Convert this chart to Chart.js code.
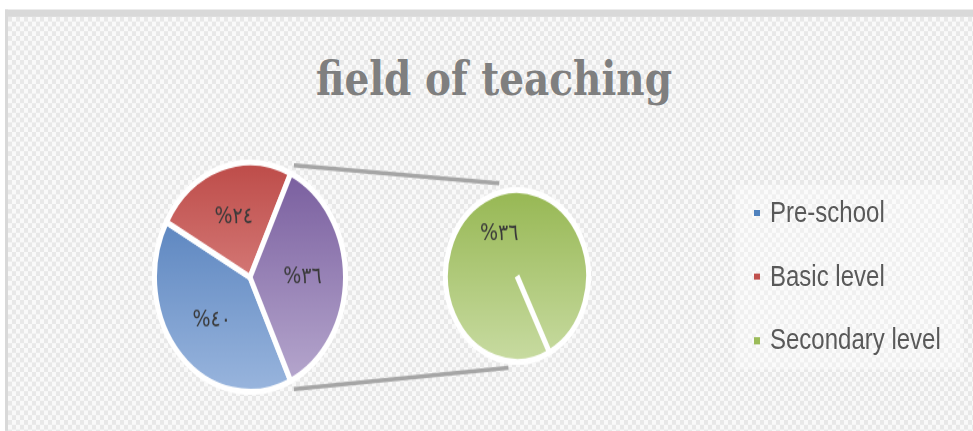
<!DOCTYPE html>
<html>
<head>
<meta charset="utf-8">
<script src="https://cdn.jsdelivr.net/npm/chart.js@4.4.1/dist/chart.umd.min.js"></script>
<style>
  html, body { margin: 0; padding: 0; width: 973px; height: 431px; overflow: hidden; background: #ffffff; }
  #stage { position: absolute; left: 0; top: 0; width: 973px; height: 359px; transform: scaleY(1.2); transform-origin: 0 0; }
  #frame {
    position: absolute; left: 5px; top: 7.5px; right: 0; bottom: 0;
    border-top: 6.5px solid #d9d9d9; border-left: 3px solid #d9d9d9;
    background-color: #f1f1f1;
    background-image: repeating-conic-gradient(#f9f9f9 0 25%, #e8e8e8 0 50%);
    background-size: 8px 8px;
  }
  #title {
    position: absolute; left: 0; width: 988px; top: 46px; text-align: center;
    font: bold 39px "DejaVu Serif", serif; line-height: 1; color: #7f7f7f;
  }
  #links { position: absolute; left: 0; top: 0; width: 973px; height: 359px; }
  .pieBox { position: absolute; }
  .pieBox canvas { display: block; }
  #mainBox { left: 152px; top: 133px; }
  #subBox  { left: 443px; top: 156px; }
  #legendBack { position: absolute; left: 735px; top: 154px; width: 228px; height: 154px; background: rgba(255,255,255,0.35); }
  #legend { position: absolute; left: 754px; top: 164.7px; }
  .row { position: relative; height: 53.2px; font: 24px "Liberation Sans", Arial, sans-serif; line-height: 1; color: #595959; white-space: nowrap; }
  .row i { position: absolute; left: 0; top: 10px; width: 6px; height: 5.5px; }
  .row span { position: absolute; left: 16px; top: 0; }
</style>
</head>
<body>
<div id="stage">
  <div id="frame"></div>
  <div id="title">field of teaching</div>
  <canvas id="links" width="973" height="359"></canvas>
  <div id="legendBack"></div>
  <div class="pieBox" id="mainBox"><canvas id="mainPie" width="196" height="196"></canvas></div>
  <div class="pieBox" id="subBox"><canvas id="subPie" width="148" height="148"></canvas></div>
  <div id="legend"></div>
</div>
<script>
const categories = ['Pre-school', 'Basic level', 'Secondary level'];
const shares     = [40, 24, 36];           // percent
const legendColors = ['#4f81bd', '#c0504d', '#9bbb59'];

// main pie: pre-school, basic, and the split-off slice (= secondary level)
const mainValues = [shares[0], shares[1], shares[2]];
const mainGrad   = [['#4876b6', '#9ab6de'], ['#bd4b48', '#eaa3a1'], ['#765a9c', '#b9abd0']];
// secondary pie: the secondary level alone
const subValues  = [shares[2]];
const subGrad    = [['#96b752', '#c9dca3']];

const arabicDigits = '٠١٢٣٤٥٦٧٨٩';
function toArabic(n) {
    return String(n).replace(/[0-9]/g, d => arabicDigits[d]);
}

function gradientFill(pairs) {
    return function (ctx) {
        const chart = ctx.chart;
        const area = chart.chartArea;
        const pair = pairs[ctx.dataIndex];
        if (!area) return pair[0];
        const g = chart.ctx.createLinearGradient(0, area.top, 0, area.bottom);
        g.addColorStop(0, pair[0]);
        g.addColorStop(1, pair[1]);
        return g;
    };
}

const sliceLabels = {
    id: 'sliceLabels',
    afterDatasetsDraw(chart) {
        const ctx = chart.ctx;
        const meta = chart.getDatasetMeta(0);
        const data = chart.data.datasets[0].data;
        ctx.save();
        ctx.font = '19px "DejaVu Sans", sans-serif';
        ctx.fillStyle = '#3a3a3a';
        ctx.textAlign = 'center';
        ctx.textBaseline = 'middle';
        meta.data.forEach(function (arc, i) {
            const mid = (arc.startAngle + arc.endAngle) / 2;
            const r = arc.outerRadius * 0.55;
            ctx.fillText('%' + toArabic(data[i]), arc.x + Math.cos(mid) * r, arc.y + Math.sin(mid) * r);
        });
        ctx.restore();
    }
};

// fixed canvas size: the page is stretched with a CSS transform, so no resize measuring
function pieOptions(rotation) {
    return {
        rotation: rotation,
        animation: false,
        responsive: false,
        layout: { padding: 0 },
        plugins: { legend: { display: false }, tooltip: { enabled: false } }
    };
}

// turn the main pie so the split-off slice faces the secondary pie
const mainRotation = 90 - (shares[0] + shares[1]) / 100 * 360 - shares[2] / 100 * 180;

const mainChart = new Chart(document.getElementById('mainPie'), {
    type: 'pie',
    data: {
        labels: ['Pre-school', 'Basic level', 'Other'],
        datasets: [{ data: mainValues, backgroundColor: gradientFill(mainGrad), borderColor: '#ffffff', borderWidth: 5 }]
    },
    options: pieOptions(mainRotation),
    plugins: [sliceLabels]
});

const subChart = new Chart(document.getElementById('subPie'), {
    type: 'pie',
    data: {
        labels: ['Secondary level'],
        datasets: [{ data: subValues, backgroundColor: gradientFill(subGrad), borderColor: '#ffffff', borderWidth: 5 }]
    },
    options: pieOptions(153),
    plugins: [sliceLabels]
});

// connector lines from the split-off slice to the secondary pie
function drawLinks() {
    const ctx = document.getElementById('links').getContext('2d');
    const mainBox = document.getElementById('mainBox');
    const subBox = document.getElementById('subBox');
    const arc = mainChart.getDatasetMeta(0).data[2];
    const sub = subChart.getDatasetMeta(0).data[0];
    const mx = mainBox.offsetLeft + arc.x, my = mainBox.offsetTop + arc.y;
    const sx = subBox.offsetLeft + sub.x, sy = subBox.offsetTop + sub.y;
    const r = arc.outerRadius * 1.08, sr = sub.outerRadius;

    ctx.strokeStyle = '#a5a5a5';
    ctx.lineWidth = 3.5;
    ctx.beginPath();
    ctx.moveTo(mx + Math.cos(arc.startAngle) * r, my + Math.sin(arc.startAngle) * r);
    ctx.lineTo(sx - sr * 0.25, sy - sr * 1.08);
    ctx.moveTo(mx + Math.cos(arc.endAngle) * r, my + Math.sin(arc.endAngle) * r);
    ctx.lineTo(sx - sr * 0.12, sy + sr * 1.07);
    ctx.stroke();
}
drawLinks();

// legend
const legend = document.getElementById('legend');
categories.forEach(function (name, i) {
    const row = document.createElement('div');
    row.className = 'row';
    row.innerHTML = '<i style="background:' + legendColors[i] + '"></i><span>' + name + '</span>';
    legend.appendChild(row);
});
</script>
</body>
</html>
